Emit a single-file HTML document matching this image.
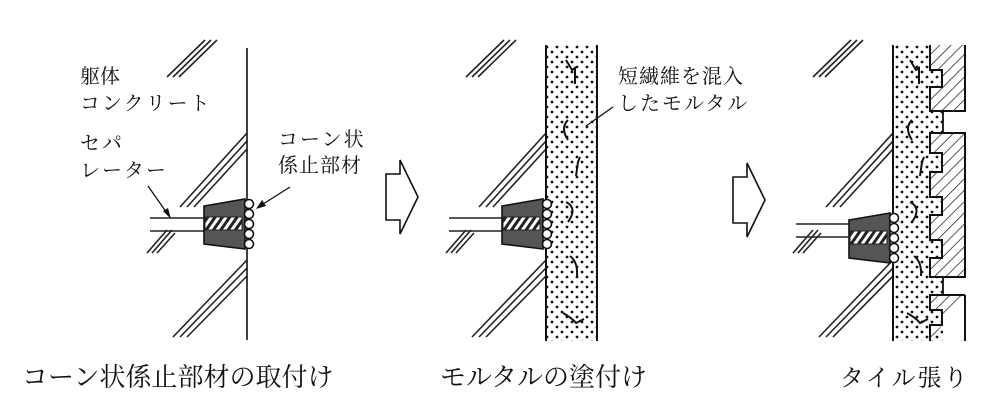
<!DOCTYPE html>
<html><head><meta charset="utf-8"><style>
html,body{margin:0;padding:0;background:#fff;}
svg{display:block}
text{font-family:"Liberation Serif","Noto Serif CJK SC","Noto Sans CJK JP",serif;fill:#111}
</style></head><body>
<svg width="1000" height="416" viewBox="0 0 1000 416" xmlns="http://www.w3.org/2000/svg">
<defs>
<pattern id="dots" width="10" height="10" patternUnits="userSpaceOnUse">
<rect width="10" height="10" fill="#fff"/>
<circle cx="2" cy="2" r="1.4" fill="#111"/><circle cx="7" cy="7" r="1.4" fill="#111"/>
</pattern>
<pattern id="hatch" width="8" height="8" patternUnits="userSpaceOnUse" patternTransform="rotate(45)">
<rect width="8" height="8" fill="#fff"/><line x1="0" y1="0" x2="0" y2="8" stroke="#222" stroke-width="1.5"/>
</pattern>
<pattern id="stripe" width="6" height="6" patternUnits="userSpaceOnUse" patternTransform="rotate(35)">
<rect width="6" height="6" fill="#fff"/><rect width="3" height="6" fill="#222"/>
</pattern>
<g id="cone">
<polygon points="0,7 41,0 41,50 0,45" fill="#555" stroke="#111" stroke-width="1.6"/>
<rect x="1" y="18" width="37" height="13" fill="url(#stripe)" stroke="#222"/>
<g fill="#fff" stroke="#111" stroke-width="1.6">
<circle cx="45" cy="5" r="4.5"/><circle cx="45" cy="15" r="4.5"/><circle cx="45" cy="25" r="4.5"/><circle cx="45" cy="35" r="4.5"/><circle cx="45" cy="45" r="4.5"/>
</g>
</g>
<g id="hat" stroke="#222" stroke-width="1.6" fill="none">
<path d="M167,77 L205,40 M173,77 L211,40 M179,77 L217,40"/>
<path d="M180,207 L247,133 M187,207 L247,141 M194,207 L247,149"/>
<path d="M147,253 L167,230 M152,253 L172,230 M157,253 L175,233"/>
<path d="M173,337 L247,260 M180,337 L247,268 M187,337 L247,276"/>
</g>
<g id="arrow">
<path d="M0,14 L14,14 L14,0 L32,37 L14,74 L14,60 L0,60 Z" fill="#fff" stroke="#111" stroke-width="1.6"/>
</g>
<g id="fib" stroke="#111" stroke-width="2" fill="none">
<path d="M0,15 L6,25 L9,23 L9,39"/>
<path d="M2,75 Q-6,83 2,95"/>
<path d="M14,112 L12,117 L10,131"/>
<path d="M0,157 Q12,163 2,177"/>
<path d="M4,211 Q12,217 11,231"/>
<path d="M-3,268 Q6,273 10,278 L18,274"/>
</g>
</defs>

<!-- Panel 1 -->
<use href="#hat"/>
<path d="M150,218 L204,218 M150,231 L204,231" stroke="#222" stroke-width="1.4"/>
<line x1="247" y1="48" x2="247" y2="340" stroke="#111" stroke-width="1.6"/>
<use href="#cone" x="204" y="199"/>
<text x="80" y="83" font-size="20">躯体</text>
<text x="80" y="110" font-size="20" letter-spacing="2">コンクリート</text>
<text x="80" y="150" font-size="20" letter-spacing="2">セパ</text>
<text x="80" y="177" font-size="20" letter-spacing="2">レーター</text>
<text x="278" y="146" font-size="20" letter-spacing="2">コーン状</text>
<text x="278" y="172" font-size="20" letter-spacing="1">係止部材</text>
<path d="M148,186 L169,216" stroke="#111" stroke-width="1.3"/><polygon points="171,219 163,211 168,208" fill="#111"/>
<path d="M290,187 L260,206" stroke="#111" stroke-width="1.3"/><polygon points="256,209 262,200 266,206" fill="#111"/>
<use href="#arrow" x="386" y="160"/>
<text x="22" y="386" font-size="26">コーン状係止部材の取付け</text>

<!-- Panel 2 -->
<use href="#hat" x="299"/>
<path d="M449,218 L502,218 M449,231 L502,231" stroke="#222" stroke-width="1.4"/>
<rect x="546" y="45" width="51" height="296" fill="url(#dots)"/>
<line x1="546" y1="45" x2="546" y2="341" stroke="#111" stroke-width="2"/>
<line x1="597" y1="45" x2="597" y2="341" stroke="#111" stroke-width="2"/>
<use href="#fib" x="566" y="45"/>
<path d="M613,107 L586,126" stroke="#111" stroke-width="1.3"/>
<text x="618" y="83" font-size="20" letter-spacing="1">短繊維を混入</text>
<text x="618" y="110" font-size="20" letter-spacing="2">したモルタル</text>
<use href="#cone" x="502" y="199"/>
<use href="#arrow" x="733" y="163"/>
<text x="440" y="386" font-size="26">モルタルの塗付け</text>

<!-- Panel 3 -->
<use href="#hat" x="646"/>
<rect x="893" y="45" width="50" height="296" fill="url(#dots)"/>
<line x1="893" y1="45" x2="893" y2="341" stroke="#111" stroke-width="2"/>
<g stroke="#111" stroke-width="1.8" fill="none">
<line x1="943" y1="111" x2="943" y2="133"/><line x1="943" y1="277" x2="943" y2="295"/>
</g>
<g fill="url(#hatch)" stroke="#111" stroke-width="2">
<path d="M965,45 L965,111 L930,111 L930,87 L942,87 L942,70 L930,70 L930,45"/>
<path d="M965,133 L965,277 L930,277 L930,258 L942,258 L942,240 L930,240 L930,215 L942,215 L942,197 L930,197 L930,172 L942,172 L942,153 L930,153 L930,133 Z"/>
<path d="M965,295 L965,341 M930,341 L930,325 L942,325 L942,310 L930,310 L930,295 L965,295"/>
</g>
<use href="#fib" x="910" y="45"/>
<use href="#cone" x="849" y="213"/>
<line x1="796" y1="224" x2="849" y2="224" stroke="#222" stroke-width="1.4"/>
<line x1="796" y1="237" x2="849" y2="237" stroke="#222" stroke-width="1.4"/>
<text x="840" y="386" font-size="24" letter-spacing="2">タイル張り</text>
</svg>
</body></html>
